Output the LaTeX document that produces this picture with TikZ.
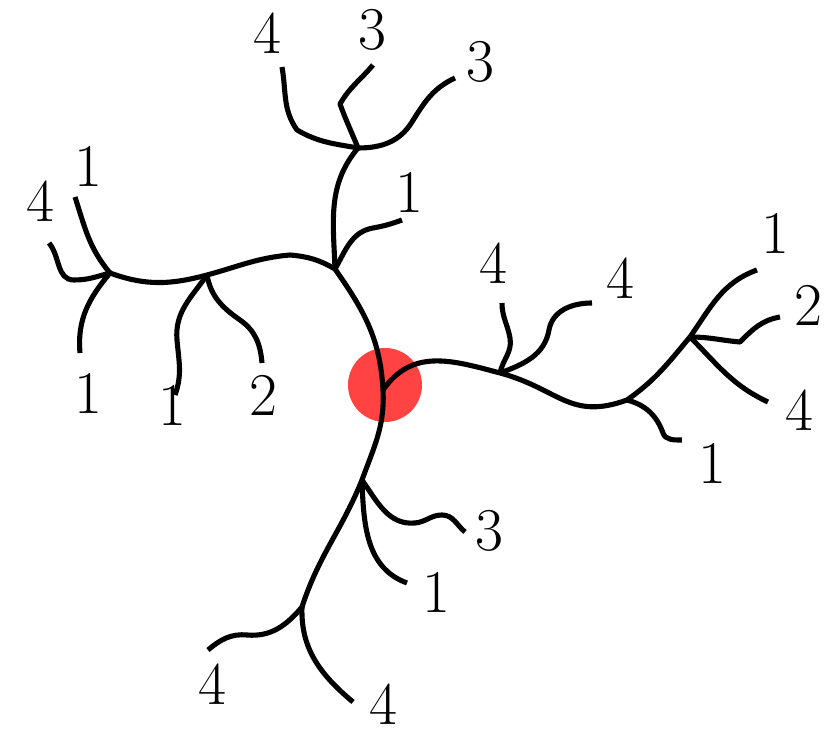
\documentclass[tikz,border=0pt]{standalone}
\usepackage{tikz}
\definecolor{RootRed}{RGB}{255, 66, 66}

\begin{document}
\begin{tikzpicture}[branch/.style={line width=1.45pt, line join=round}, leaf/.style={font=\LARGE, inner sep=0pt}]
      \useasboundingbox (0, 0) rectangle (8.27, -7.31);

      % Root
      \fill[RootRed] (3.85, -3.85) circle (0.37);
      \coordinate (rt) at (3.83, -3.90);

      % Junctions
      \coordinate (j1) at (3.35, -2.69);
      \coordinate (jt) at (3.58, -1.48);
      \coordinate (jl2) at (2.07, -2.75);
      \coordinate (jl1) at (1.10, -2.73);
      \coordinate (jr1) at (5.00, -3.73);
      \coordinate (jr2) at (6.27, -4.00);
      \coordinate (jr3) at (6.90, -3.37);
      \coordinate (jb1) at (3.62, -4.80);
      \coordinate (jb2) at (3.02, -6.07);

      % Leaf ends
      \coordinate (et4) at (2.82, -0.67);
      \coordinate (et3a) at (3.73, -0.65);
      \coordinate (et3b) at (4.55, -0.78);
      \coordinate (ej1) at (4.02, -2.20);
      \coordinate (el1a) at (0.75, -1.97);
      \coordinate (el4) at (0.49, -2.43);
      \coordinate (el1b) at (0.80, -3.53);
      \coordinate (el1c) at (1.75, -3.95);
      \coordinate (el2) at (2.62, -3.63);
      \coordinate (er4a) at (5.02, -3.03);
      \coordinate (er4b) at (5.92, -3.03);
      \coordinate (er1a) at (6.82, -4.40);
      \coordinate (er1b) at (7.57, -2.70);
      \coordinate (er2) at (7.80, -3.17);
      \coordinate (er4c) at (7.68, -4.02);
      \coordinate (eb3) at (4.65, -5.32);
      \coordinate (eb1) at (4.07, -5.83);
      \coordinate (eb4a) at (2.08, -6.50);
      \coordinate (eb4b) at (3.53, -7.02);

      % Trunk through the root
      \draw[branch] (jt) to[out=-130, in=92] (j1) to[out=-55, in=93] (rt) to[out=-87, in=70] (jb1) to[out=-112, in=72] (jb2);
      \draw[branch] (rt) to[out=55, in=165, looseness=1.1] (jr1) to[out=-15, in=200, looseness=1.2] (jr2) to[out=35, in=230] (jr3);
      \draw[branch] (j1) to[out=150, in=-5] (2.90, -2.55) to[out=185, in=15] (jl2) to[out=195, in=-20] (jl1);

      % Top
      \draw[branch] (jt) to[out=170, in=-30] (2.97, -1.30) to[out=125, in=-80] (et4);
      \draw[branch] (jt) to[out=112, in=-70] (3.40, -1.04) to[out=60, in=-130] (et3a);
      \draw[branch] (jt) to[out=0, in=-122] (4.12, -1.22) to[out=58, in=205] (et3b);
      \draw[branch] (j1) to[out=60, in=190] (3.73, -2.28) to[out=10, in=200] (ej1);

      % Left
      \draw[branch] (jl1) to[out=130, in=-72] (el1a);
      \draw[branch] (jl1) to[out=195, in=0] (0.74, -2.80) to[out=180, in=-50] (el4);
      \draw[branch] (jl1) to[out=-130, in=95] (el1b);
      \draw[branch] (jl2) to[out=-125, in=95] (1.77, -3.40) to[out=-85, in=70] (el1c);
      \draw[branch] (jl2) to[out=-80, in=145] (2.40, -3.20) to[out=-35, in=95] (el2);

      % Right
      \draw[branch] (jr1) to[out=78, in=-80] (5.10, -3.38) to[out=100, in=-90] (er4a);
      \draw[branch] (jr1) to[out=20, in=-100] (5.49, -3.30) to[out=80, in=180] (er4b);
      \draw[branch] (jr2) to[out=-15, in=110] (6.63, -4.33) to[out=-70, in=180] (er1a);
      \draw[branch] (jr3) to[out=55, in=200] (er1b);
      \draw[branch] (jr3) to[out=0, in=175] (7.40, -3.42) to[out=45, in=190] (er2);
      \draw[branch] (jr3) to[out=-45, in=155] (er4c);

      % Bottom
      \draw[branch] (jb1) to[out=-55, in=185] (4.15, -5.23) to[out=5, in=180] (4.42, -5.15) to[out=0, in=140] (eb3);
      \draw[branch] (jb1) to[out=-88, in=160] (eb1);
      \draw[branch] (jb2) to[out=-130, in=-5] (2.47, -6.35) to[out=175, in=40] (eb4a);
      \draw[branch] (jb2) to[out=-92, in=140] (eb4b);

      % Leaf labels
      \node[leaf] (lt4) at (2.67, -0.33) {4};
      \node[leaf] (lt3a) at (3.72, -0.30) {3};
      \node[leaf] (lt3b) at (4.80, -0.62) {3};
      \node[leaf] (lj1) at (4.09, -1.92) {1};
      \node[leaf] (ll1a) at (0.88, -1.66) {1};
      \node[leaf] (ll4) at (0.40, -2.01) {4};
      \node[leaf] (ll1b) at (0.88, -3.93) {1};
      \node[leaf] (ll1c) at (1.72, -4.05) {1};
      \node[leaf] (ll2) at (2.63, -3.95) {2};
      \node[leaf] (lr4a) at (4.93, -2.63) {4};
      \node[leaf] (lr4b) at (6.20, -2.78) {4};
      \node[leaf] (lr1b) at (7.75, -2.33) {1};
      \node[leaf] (lr2) at (8.08, -3.05) {2};
      \node[leaf] (lr4c) at (7.99, -4.10) {4};
      \node[leaf] (lr1a) at (7.12, -4.63) {1};
      \node[leaf] (lb3) at (4.89, -5.31) {3};
      \node[leaf] (lb1) at (4.36, -5.92) {1};
      \node[leaf] (lb4a) at (2.12, -6.84) {4};
      \node[leaf] (lb4b) at (3.83, -7.04) {4};
\end{tikzpicture}
\end{document}
